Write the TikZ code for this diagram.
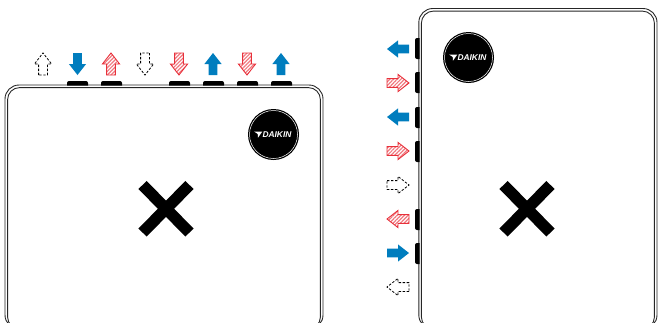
\documentclass[tikz,border=0pt]{standalone}
\usepackage{fontspec}
\setmainfont{Liberation Sans}
\usetikzlibrary{patterns.meta}
\definecolor{coolblue}{HTML}{007DBE}
\definecolor{heatred}{HTML}{E8303A}
\tikzset{
  casing/.style = {draw = black!85, line width = 0.9pt},
  tab/.style = {fill = black},
  blueflow/.style = {fill = coolblue, draw = none},
  redflow/.style = {draw = heatred, line width = 0.9pt, line join = miter,
    pattern = {Lines[angle = 45, distance = 2.6pt, line width = 1.2pt]}, pattern color = heatred!65},
  offflow/.style = {draw = black, line width = 0.8pt, dash pattern = on 2.4pt off 1.6pt},
  cross/.style = {draw = black, line width = 11.5pt},
}
\newcommand\flowarrow[4]{\path [#4, shift = {(#1,#2)}, rotate = #3]
  (-4.4,11) -- (-4.4,0) -- (-8.6,0) -- (0,-11) -- (8.6,0) -- (4.4,0) -- (4.4,11) -- cycle;}
\begin{document}
\begin{tikzpicture}[x = 1pt, y = -1pt]
\useasboundingbox (0,0) rectangle (658,322);
\begin{scope}
\clip (0,0) rectangle (658,322);
% left unit
\draw [casing, rounded corners = 14] (5,85) rectangle (323,329);
\draw [casing, rounded corners = 12] (7.6,87.6) rectangle (320.4,329);
% right unit
\draw [casing, rounded corners = 14] (418.8,8.5) rectangle (657,329);
\draw [casing, rounded corners = 12] (421.4,11.1) rectangle (654.4,329);
\end{scope}
% tabs
\foreach \x in {67,101,169,203,237,271}
  \fill [tab] (\x,85.5) [rounded corners = 2] -- (\x,81) -- (\x+21,81) [sharp corners] -- (\x+21,85.5) -- cycle;
\foreach \y in {38,72,107,141,209,243}
  \fill [tab] (419.5,\y) [rounded corners = 2] -- (415,\y) -- (415,\y+21) [sharp corners] -- (419.5,\y+21) -- cycle;
% arrows on top
\flowarrow{43}{64}{0}{offflow}
\flowarrow{77.5}{64}{180}{blueflow}
\flowarrow{111}{64}{0}{redflow}
\flowarrow{145}{64}{180}{offflow}
\flowarrow{179}{64}{180}{redflow}
\flowarrow{213}{64}{0}{blueflow}
\flowarrow{247}{64}{180}{redflow}
\flowarrow{281}{64}{0}{blueflow}
% arrows on the side
\flowarrow{398}{49}{90}{blueflow}
\flowarrow{398}{83}{270}{redflow}
\flowarrow{398}{117}{90}{blueflow}
\flowarrow{398}{151}{270}{redflow}
\flowarrow{398}{185}{270}{offflow}
\flowarrow{398}{219}{90}{redflow}
\flowarrow{398}{253}{270}{blueflow}
\flowarrow{398}{287}{90}{offflow}
% badges and crosses
\foreach \x/\y/\cx/\name in {273.5/134.5/166/left, 468.5/57.5/527/right} {
  \fill [black] (\x,\y) circle (25.5);
  \draw [white, line width = 0.5pt] (\x,\y) circle (24);
  \fill [white] (\x-19.5,\y-3) -- (\x-11.2,\y-3) -- (\x-15.5,\y+3.2) -- (\x-15.8,\y-0.6) -- cycle;
  \node [text = white, inner sep = 0, anchor = west, font = \bfseries\itshape\fontsize{8.4}{8.4}\selectfont] (logo\name) at (\x-11.2,\y+0.3) {DAIKIN};
  \draw [cross] (\cx-23.5,185) -- (\cx+23.5,232.5);
  \draw [cross] (\cx-23.5,232.5) -- (\cx+23.5,185);
}
\end{tikzpicture}
\end{document}
